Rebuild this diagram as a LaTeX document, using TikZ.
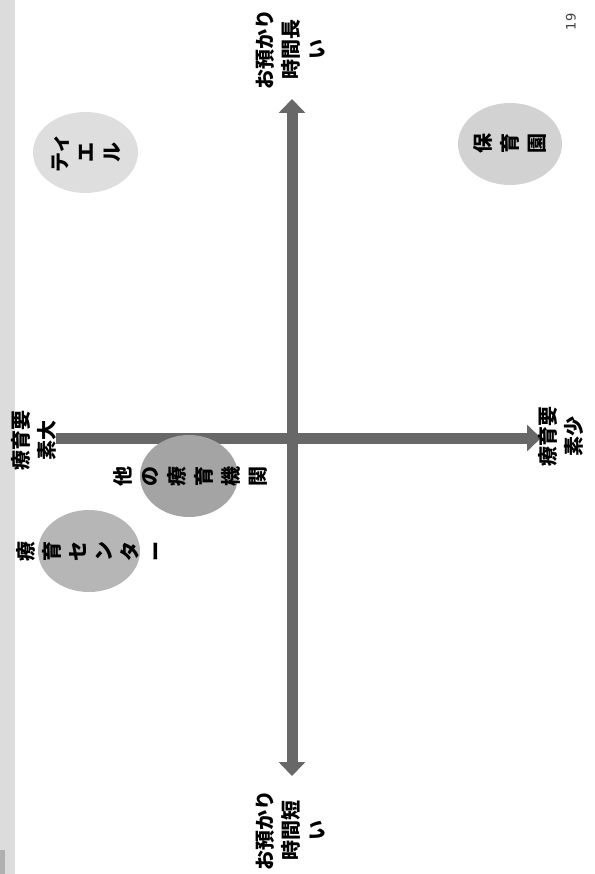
\documentclass[tikz,border=0pt]{standalone}
\usepackage{fontspec}
\newfontfamily\jp{Noto Sans CJK JP}
\newfontfamily\numfont{DejaVu Sans}
\usetikzlibrary{arrows.meta}
\definecolor{axisgray}{HTML}{686868}
\definecolor{stripgray}{HTML}{DCDCDC}
\definecolor{stripdark}{HTML}{B0B0B0}
\definecolor{ellA}{HTML}{DEDEDE}
\definecolor{ellB}{HTML}{D2D2D2}
\definecolor{ellC}{HTML}{A4A4A4}
\definecolor{ellD}{HTML}{B6B6B6}
\begin{document}
\begin{tikzpicture}[x=1pt,y=-1pt,
  lbl/.style={font=\jp\bfseries\fontsize{20}{26}\selectfont, rotate=90, align=center, inner sep=0pt, text=black},
  lblwide/.style={lbl, font=\jp\bfseries\fontsize{20}{27}\selectfont},
  tipA/.style={Triangle[length=14pt,width=26pt]},
  axisline/.style={draw=axisgray, line width=11pt},
  pagenum/.style={font=\numfont\fontsize{13}{15}\selectfont, rotate=90, text=black!75, inner sep=0pt}]
\useasboundingbox (0,0) rectangle (594,874);
\fill[white] (0,0) rectangle (594,874);
\fill[stripgray] (0,0) rectangle (15,874);
\fill[stripdark] (0,850) rectangle (5,874);
% axes
\coordinate (vtop) at (292,99);
\coordinate (vbot) at (292,776);
\coordinate (hleft) at (56,438);
\coordinate (hright) at (541,438);
\draw[axisline, {Triangle[length=14pt,width=26pt]}-{Triangle[length=14pt,width=26pt]}] (vbot) -- (vtop);
\draw[axisline, -{Triangle[length=14pt,width=26pt]}] (hleft) -- (hright);
% ellipses
\fill[ellA] (85.5,152.5) ellipse [x radius=52.5, y radius=40.5];
\fill[ellB] (510,144) ellipse [x radius=52, y radius=41];
\fill[ellC] (189,476) ellipse [x radius=49, y radius=41];
\fill[ellD] (89,551) ellipse [x radius=51, y radius=41];
% labels
\node[lbl] (longl) at (291,50) {お預かり\\時間長\\い};
\node[lbl] (shortl) at (291,830) {お預かり\\時間短\\い};
\node[lbl] (bigl) at (34,440) {療育要\\素大};
\node[lbl] (smalll) at (561,436) {療育要\\素少};
\node[lbl] (tiel) at (86,153) {ティ\\エ\\ル};
\node[lblwide] (hoiku) at (510,144) {保\\育\\園};
\node[lblwide] (other) at (190,476) {他\\の\\療\\育\\機\\関};
\node[lbl] (center) at (90,551) {療\\育\\セ\\ン\\タ\\ー};
\node[pagenum] (page) at (571,22) {19};
\end{tikzpicture}
\end{document}
